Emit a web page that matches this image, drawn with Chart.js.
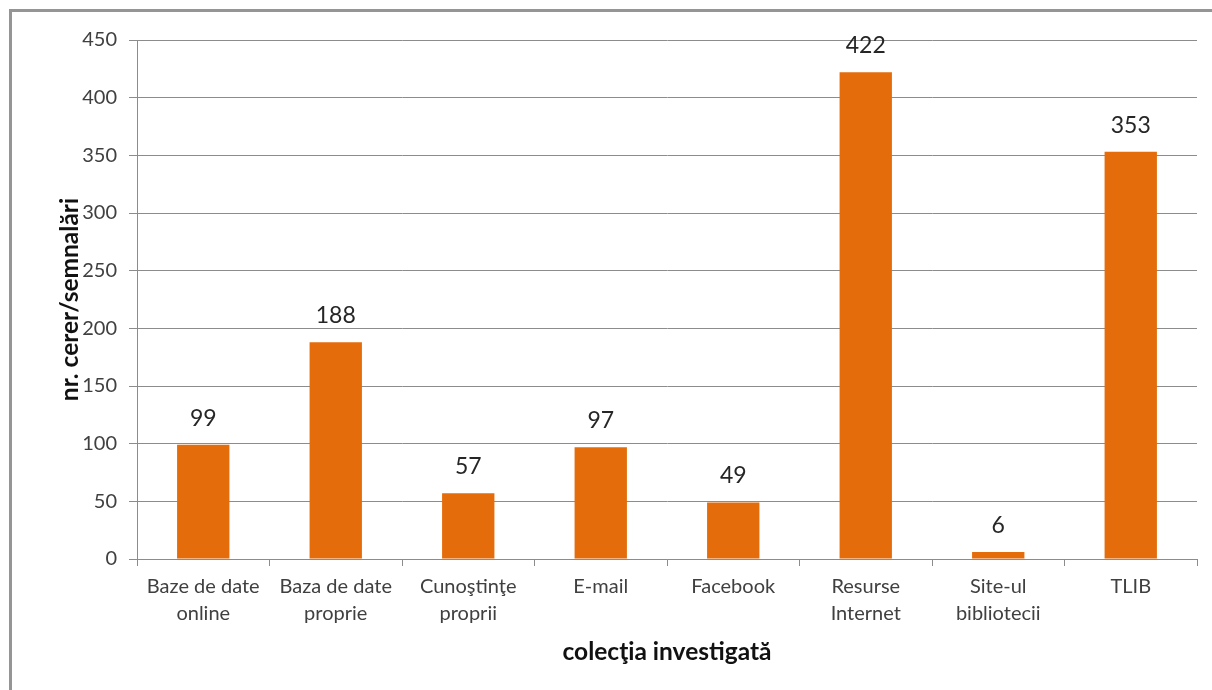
<!DOCTYPE html>
<html lang="ro">
<head>
<meta charset="UTF-8">
<title>colecţia investigată</title>
<script src="https://cdn.jsdelivr.net/npm/chart.js"></script>
<style>
    body {
        margin: 0;
        background: #fff;
        overflow: hidden;
    }
    #wrap {
        position: relative;
        width: 1212px;
        height: 690px;
    }
    #frame {
        position: absolute;
        left: 9px;
        top: 9px;
        width: 1220px;
        height: 700px;
        border-left: 3px solid #959595;
        border-top: 3px solid #959595;
        pointer-events: none;
    }
</style>
</head>
<body>
<div id="wrap">
    <canvas id="myChart" width="1212" height="690"></canvas>
    <div id="frame"></div>
</div>
<script>
    const categories = [
        ['Baze de date', 'online'],
        ['Baza de date', 'proprie'],
        ['Cunoştinţe', 'proprii'],
        'E-mail',
        'Facebook',
        ['Resurse', 'Internet'],
        ['Site-ul', 'bibliotecii'],
        'TLIB'
    ];
    const values = [99, 188, 57, 97, 49, 422, 6, 353];
    const yTicks = [0, 50, 100, 150, 200, 250, 300, 350, 400, 450];

    const barColor = '#E46C0A';
    const gridColor = '#8c8c8c';
    const fontFamily = 'Lato, "Open Sans", sans-serif';

    // etichete de date deasupra coloanelor
    const valueLabels = {
        id: 'valueLabels',
        afterDatasetsDraw(chart) {
            const ctx = chart.ctx;
            const meta = chart.getDatasetMeta(0);
            ctx.save();
            ctx.font = '23px ' + fontFamily;
            ctx.fillStyle = '#262626';
            ctx.textAlign = 'center';
            ctx.textBaseline = 'alphabetic';
            meta.data.forEach(function (bar, i) {
                ctx.fillText(String(values[i]), bar.x, bar.y - 19);
            });
            ctx.restore();
        }
    };

    const ctx = document.getElementById('myChart').getContext('2d');
    new Chart(ctx, {
        type: 'bar',
        data: {
            labels: categories,
            datasets: [{
                data: values,
                backgroundColor: barColor,
                borderWidth: 0,
                categoryPercentage: 1,
                barPercentage: 0.395
            }]
        },
        options: {
            responsive: false,
            animation: false,
            layout: {
                padding: { left: 55, top: 40, right: 15, bottom: 23 }
            },
            plugins: {
                legend: { display: false },
                tooltip: { enabled: false }
            },
            scales: {
                x: {
                    grid: {
                        offset: true,
                        drawOnChartArea: false,
                        drawTicks: true,
                        tickLength: 7,
                        color: gridColor
                    },
                    border: { color: gridColor, width: 1 },
                    ticks: {
                        color: '#404040',
                        padding: 7,
                        maxRotation: 0,
                        autoSkip: false,
                        font: { family: fontFamily, size: 20, lineHeight: 1.35 }
                    },
                    title: {
                        display: true,
                        text: 'colecţia investigată',
                        color: '#111',
                        padding: 0,
                        font: { family: fontFamily, size: 24.5, weight: 'bold' }
                    },
                    afterFit(scale) {
                        scale.height = 690 - 23 - 559;
                    }
                },
                y: {
                    min: 0,
                    max: 450,
                    afterBuildTicks(scale) {
                        scale.ticks = yTicks.map(v => ({ value: v }));
                    },
                    grid: {
                        color: gridColor,
                        tickLength: 8
                    },
                    border: { color: gridColor, width: 1 },
                    ticks: {
                        color: '#404040',
                        padding: 12,
                        font: { family: fontFamily, size: 20 }
                    },
                    title: {
                        display: true,
                        text: 'nr. cerer/semnalări',
                        color: '#111',
                        padding: 0,
                        font: { family: fontFamily, size: 24.5, weight: 'bold' }
                    },
                    afterFit(scale) {
                        scale.width = 137 - 55;
                    }
                }
            }
        },
        plugins: [valueLabels]
    });
</script>
</body>
</html>
